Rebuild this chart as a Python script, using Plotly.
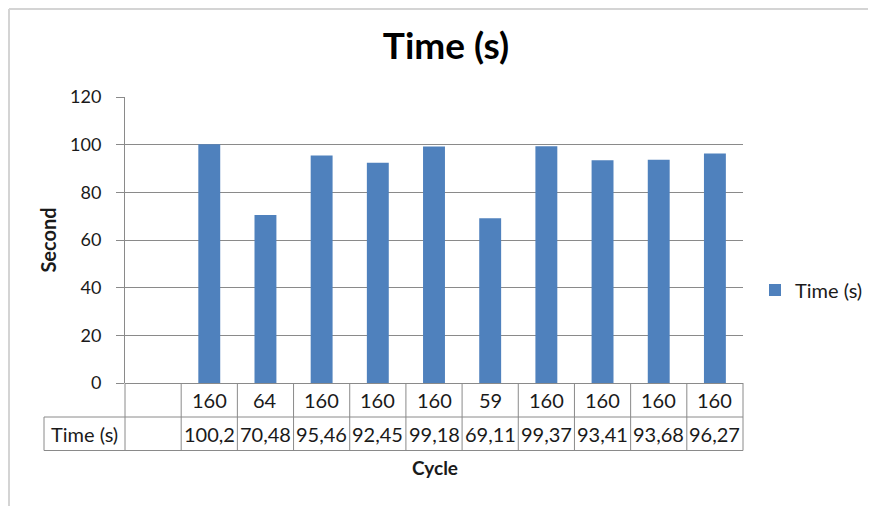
import plotly.graph_objects as go

# ---- data ----
cycles = ["", "160", "64", "160", "160", "160", "59", "160", "160", "160", "160"]
times = [None, 100.2, 70.48, 95.46, 92.45, 99.18, 69.11, 99.37, 93.41, 93.68, 96.27]
series_name = "Time (s)"
y_ticks = [0, 20, 40, 60, 80, 100, 120]

# page has an 8px body margin; work in page pixels and convert
OFF = 8
PAGE_W, PAGE_H = 876, 506
W, H = PAGE_W - OFF, PAGE_H - OFF
PL, PR, PT, PB = 125, 743, 97, 383  # plot area in page pixels
ML, MT = PL - OFF, PT - OFF
MR, MB = W - (PR - OFF), H - (PB - OFF)
PW, PH = PR - PL, PB - PT

def px_x(px):  # page pixel -> paper x
    return (px - PL) / PW

def px_y(py):  # page pixel -> paper y
    return (PB - py) / PH

FONT = "Lato"
TXT = "#1a1a1a"
GRID = "#8a8a8a"
BAR = "#4F81BD"

idx = list(range(len(cycles)))

fig = go.Figure()
fig.add_trace(go.Bar(
    x=idx, y=times, name=series_name, marker=dict(color=BAR, line=dict(width=0)),
    showlegend=True,
))

shapes = []
annotations = []

row1_bot = px_y(417)
row2_bot = px_y(450.5)
lbl_left = px_x(44)
ln = dict(color=GRID, width=1)

# table horizontal lines
shapes.append(dict(type="line", xref="paper", yref="paper", x0=lbl_left, x1=1, y0=row1_bot, y1=row1_bot, line=ln))
shapes.append(dict(type="line", xref="paper", yref="paper", x0=lbl_left, x1=1, y0=row2_bot, y1=row2_bot, line=ln))
# left of label cell
shapes.append(dict(type="line", xref="paper", yref="paper", x0=lbl_left, x1=lbl_left, y0=row1_bot, y1=row2_bot, line=ln))
# y axis line continues through table
shapes.append(dict(type="line", xref="paper", yref="paper", x0=0, x1=0, y0=0, y1=row2_bot, line=ln))
# right edge of table
shapes.append(dict(type="line", xref="paper", yref="paper", x0=1, x1=1, y0=0, y1=row2_bot, line=ln))
# category separators
for i in idx[:-1]:
    shapes.append(dict(type="line", xref="x", yref="paper", x0=i + 0.5, x1=i + 0.5, y0=0, y1=row2_bot, line=ln))

# table text
r1_mid = (0 + row1_bot) / 2
r2_mid = (row1_bot + row2_bot) / 2
tfont = dict(family=FONT, size=20, color=TXT)
for i, c in zip(idx, cycles):
    if c:
        annotations.append(dict(x=i, y=r1_mid, xref="x", yref="paper", text=c, showarrow=False,
                                xanchor="center", yanchor="middle", font=tfont))
for i, v in zip(idx, times):
    if v is not None:
        annotations.append(dict(x=i, y=r2_mid, xref="x", yref="paper", text=str(v).replace(".", ","),
                                showarrow=False, xanchor="center", yanchor="middle", font=tfont))
annotations.append(dict(x=(lbl_left + 0) / 2, y=r2_mid, xref="paper", yref="paper", text=series_name,
                        showarrow=False, xanchor="center", yanchor="middle", font=tfont))
# x axis title
annotations.append(dict(x=px_x(435), y=px_y(468), xref="paper", yref="paper", text="<b>Cycle</b>",
                        showarrow=False, xanchor="center", yanchor="middle",
                        font=dict(family=FONT, size=19, color=TXT)))

# outer chart frame (partial, as in screenshot)
frame = dict(color="#d4d4d4", width=2)
shapes.append(dict(type="line", xref="paper", yref="paper", x0=px_x(9), x1=px_x(890), y0=px_y(9), y1=px_y(9), line=frame))
shapes.append(dict(type="line", xref="paper", yref="paper", x0=px_x(9), x1=px_x(9), y0=px_y(9), y1=px_y(520), line=frame))

fig.update_layout(
    width=W, height=H,
    margin=dict(l=ML, r=MR, t=MT, b=MB, autoexpand=False),
    paper_bgcolor="white", plot_bgcolor="white",
    font=dict(family=FONT, color=TXT),
    title=dict(text="<b>Time (s)</b>", x=(446 - OFF) / W, xref="container", xanchor="center",
               y=1 - (46 - OFF) / H, yref="container", yanchor="middle",
               font=dict(family=FONT, size=37, color="#000")),
    bargap=0.61,
    xaxis=dict(range=[-0.5, len(cycles) - 0.5], showticklabels=False, showgrid=False,
               zeroline=False, showline=False, ticks=""),
    yaxis=dict(range=[0, 120], tickvals=y_ticks, showgrid=True, gridcolor=GRID, gridwidth=1,
               zeroline=True, zerolinecolor=GRID, zerolinewidth=1,
               showline=True, linecolor=GRID, linewidth=1,
               ticks="outside", ticklen=8, tickcolor=GRID, ticklabelstandoff=11,
               tickfont=dict(family=FONT, size=18, color=TXT),
               title=dict(text="<b>Second</b>", standoff=8, font=dict(family=FONT, size=20, color=TXT))),
    legend=dict(x=px_x(755), xanchor="left", y=px_y(290), yanchor="middle",
                font=dict(family=FONT, size=20, color=TXT), bgcolor="rgba(0,0,0,0)"),
    shapes=shapes,
    annotations=annotations,
)

fig.write_html("out.html")
